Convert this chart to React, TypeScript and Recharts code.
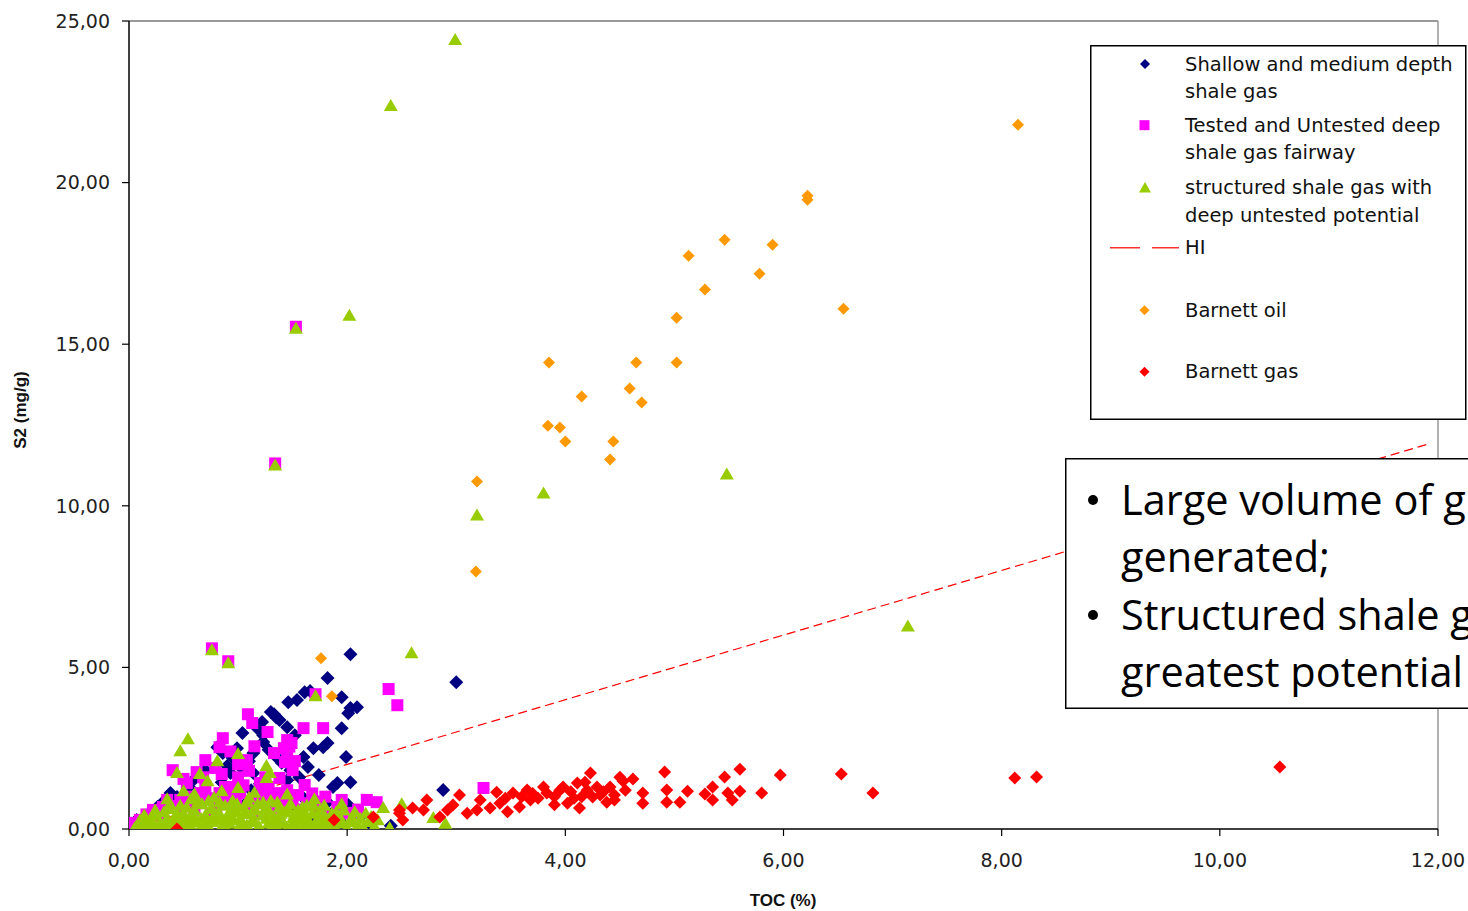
import React from 'react';
import { ScatterChart, Scatter, XAxis, YAxis, ReferenceLine } from 'recharts';

type P = { x: number; y: number };
const toPts = (a: number[][]): P[] => a.map(([x, y]) => ({ x, y }));

const xTicks = [0, 2, 4, 6, 8, 10, 12];
const yTicks = [0, 5, 10, 15, 20, 25];

const shallowGas = toPts([
  [2.03, 5.41], [1.82, 4.67], [3.0, 4.54], [2.88, 1.21], [1.61, 4.23], [1.54, 3.99], [1.46, 3.92],
  [1.95, 4.08], [2.03, 3.74], [2.09, 3.77], [2.01, 3.58], [1.33, 3.55], [1.38, 3.37], [1.45, 3.15],
  [1.22, 3.31], [1.95, 3.12], [1.04, 2.97], [1.23, 2.9], [1.52, 2.9], [1.82, 2.66], [1.78, 2.53],
  [1.69, 2.5], [1.6, 2.23], [1.99, 2.23], [1.64, 1.92], [1.74, 1.67], [1.87, 1.3], [1.91, 1.42],
  [2.03, 1.45], [1.59, 0.99], [2.01, 0.74], [2.12, 0.37], [1.14, 2.35], [1.23, 2.69], [0.99, 2.5],
  [0.86, 2.35], [0.81, 2.53], [0.7, 1.82], [0.93, 1.73], [1.02, 1.92], [1.14, 1.73], [1.48, 1.82],
  [1.45, 1.51], [0.38, 1.11], [0.44, 0.99], [0.31, 0.83], [0.26, 0.68], [0.17, 0.43], [0.07, 0.28],
  [0.01, 0.06], [1.69, 0.9], [1.82, 0.83], [1.72, 0.65], [1.48, 0.68], [1.32, 0.74], [1.08, 0.83],
  [0.65, 1.05], [1.3, 3.62], [1.35, 3.45], [1.28, 2.45], [0.95, 2.2], [1.1, 2.1], [1.4, 2.05],
  [0.55, 1.3], [0.85, 1.45], [1.2, 1.4], [1.56, 1.6], [1.88, 0.55], [1.95, 0.2], [2.21, 0.15],
  [1.7, 0.3], [2.4, 0.1], [0.6, 1.55], [0.9, 1.95], [1.18, 3.1], [1.36, 2.2], [1.66, 4.27], [1.12, 1.2],
]);

const deepFairway = toPts([
  [1.53, 15.54], [1.34, 11.31], [0.76, 5.59], [0.91, 5.19], [1.71, 4.17], [2.38, 4.33], [2.46, 3.83],
  [3.25, 1.27], [1.09, 3.55], [1.13, 3.28], [1.27, 3.0], [1.6, 3.12], [1.78, 3.12], [0.86, 2.81],
  [0.83, 2.53], [1.15, 2.56], [1.45, 2.35], [1.49, 2.66], [1.08, 2.13], [0.7, 2.13], [1.43, 2.07],
  [0.62, 1.76], [0.79, 1.89], [1.5, 1.82], [1.38, 1.58], [0.53, 1.42], [0.7, 1.3], [0.97, 1.3],
  [1.2, 1.42], [1.61, 1.36], [0.4, 1.82], [0.47, 0.9], [0.65, 1.11], [0.83, 1.11], [1.02, 1.11],
  [1.23, 1.11], [1.38, 1.11], [0.35, 0.9], [0.31, 0.68], [0.22, 0.59], [1.5, 0.9], [1.63, 0.8],
  [1.75, 0.68], [1.91, 0.68], [2.18, 0.9], [2.27, 0.83], [0.04, 0.19], [0.1, 0.28], [2.05, 0.34],
  [0.9, 0.85], [1.1, 0.7], [1.3, 0.55], [0.6, 0.6], [1.45, 2.75], [1.42, 2.5], [1.0, 1.6],
  [0.16, 0.45], [1.85, 0.4], [2.1, 0.6], [0.75, 0.45],
  [0.55, 1.0], [0.72, 0.95], [0.88, 1.3], [0.95, 1.0], [1.05, 1.35], [1.15, 0.95], [1.28, 1.3],
  [1.33, 0.95], [1.45, 1.2], [1.55, 1.05], [1.7, 0.85], [1.8, 1.0], [0.45, 0.7], [0.62, 0.8],
  [0.8, 0.65], [0.98, 0.75], [1.18, 0.8], [1.4, 0.75], [1.58, 0.6], [1.68, 1.1], [1.95, 0.9],
  [2.0, 0.5], [0.27, 0.45], [0.5, 1.55], [0.68, 1.6], [0.85, 1.7], [1.1, 1.8], [1.25, 1.6],
  [1.47, 2.55], [1.52, 2.1], [0.93, 2.4], [1.0, 2.0], [1.33, 2.35], [1.13, 0.5], [1.25, 0.85],
]);

const structuredGas = toPts([
  [2.99, 24.44], [2.4, 22.4], [2.02, 15.91], [1.53, 15.51], [1.34, 11.28], [3.8, 10.41], [3.19, 9.73],
  [5.48, 11.0], [7.14, 6.3], [2.59, 5.47], [0.76, 5.56], [0.91, 5.16], [1.71, 4.14],
  [0.44, 1.76], [0.47, 2.44], [0.54, 2.81], [0.65, 1.73], [0.72, 1.51], [0.81, 2.13], [1.0, 2.35],
  [1.26, 1.98], [1.26, 1.61], [1.29, 1.76],
  [0.05, 0.05], [0.08, 0.15], [0.12, 0.1], [0.15, 0.25], [0.18, 0.05], [0.2, 0.35], [0.22, 0.15],
  [0.25, 0.45], [0.28, 0.2], [0.3, 0.05], [0.32, 0.55], [0.35, 0.3], [0.38, 0.1], [0.4, 0.65],
  [0.42, 0.4], [0.45, 0.2], [0.47, 0.75], [0.5, 0.5], [0.52, 0.1], [0.55, 0.35], [0.57, 0.95],
  [0.6, 0.6], [0.62, 0.25], [0.65, 0.05], [0.67, 0.8], [0.7, 0.45], [0.72, 0.15], [0.75, 0.65],
  [0.78, 1.0], [0.8, 0.3], [0.82, 0.55], [0.85, 0.1], [0.88, 0.75], [0.9, 0.4], [0.92, 0.2],
  [0.95, 0.9], [0.98, 0.55], [1.0, 0.05], [1.02, 0.35], [1.05, 0.7], [1.08, 0.15], [1.1, 1.0],
  [1.12, 0.5], [1.15, 0.25], [1.18, 0.8], [1.2, 0.05], [1.22, 0.45], [1.25, 0.65], [1.28, 0.2],
  [1.3, 0.9], [1.33, 0.4], [1.35, 0.1], [1.38, 0.7], [1.4, 0.3], [1.43, 0.55], [1.45, 0.05],
  [1.48, 0.8], [1.5, 0.35], [1.53, 0.15], [1.55, 0.6], [1.58, 0.4], [1.6, 0.1], [1.63, 0.75],
  [1.65, 0.25], [1.68, 0.5], [1.7, 0.05], [1.73, 0.35], [1.75, 0.6], [1.78, 0.15], [1.8, 0.4],
  [1.85, 0.1], [1.88, 0.3], [1.9, 0.55], [1.95, 0.2], [2.0, 0.05], [2.05, 0.35], [2.1, 0.15],
  [2.15, 0.05], [2.2, 0.25], [2.25, 0.1], [2.33, 0.68], [2.39, 0.06], [2.5, 0.8], [2.79, 0.37],
  [2.9, 0.19],
  [0.1, 0.3], [0.14, 0.45], [0.19, 0.2], [0.24, 0.6], [0.27, 0.08], [0.33, 0.25], [0.36, 0.7],
  [0.41, 0.15], [0.44, 0.5], [0.49, 0.3], [0.53, 0.7], [0.56, 0.15], [0.59, 0.45], [0.63, 0.85],
  [0.66, 0.35], [0.69, 0.1], [0.73, 0.9], [0.76, 0.25], [0.79, 0.5], [0.83, 0.85], [0.86, 0.3],
  [0.89, 0.05], [0.93, 0.6], [0.96, 0.3], [0.99, 0.8], [1.03, 0.15], [1.06, 0.5], [1.09, 0.85],
  [1.13, 0.3], [1.16, 0.6], [1.19, 0.1], [1.23, 0.85], [1.26, 0.35], [1.29, 0.55], [1.32, 0.15],
  [1.36, 0.85], [1.39, 0.5], [1.42, 0.2], [1.46, 0.65], [1.49, 0.1], [1.52, 0.5], [1.56, 0.3],
  [1.59, 0.7], [1.62, 0.45], [1.66, 0.1], [1.69, 0.75], [1.72, 0.2], [1.76, 0.45], [1.79, 0.75],
  [1.83, 0.25], [1.86, 0.5], [1.89, 0.05], [1.93, 0.4], [1.97, 0.6], [2.02, 0.25], [2.07, 0.55],
  [2.12, 0.35], [2.17, 0.5], [2.22, 0.4], [2.28, 0.3], [0.6, 1.1], [0.85, 1.2], [1.15, 1.15],
  [1.0, 1.3], [1.45, 1.1], [1.7, 0.95], [0.35, 0.95], [0.5, 1.2], [1.95, 0.8],
]);

const hiLine = toPts([[0, 0], [11.93, 11.93]]);

const barnettOil = toPts([
  [8.15, 21.79], [6.22, 19.59], [6.22, 19.47], [5.46, 18.23], [5.9, 18.08], [5.13, 17.74],
  [5.78, 17.18], [5.28, 16.69], [6.55, 16.1], [5.02, 15.82], [3.85, 14.43], [4.65, 14.43],
  [5.02, 14.43], [4.15, 13.38], [4.59, 13.63], [4.7, 13.2], [3.84, 12.48], [3.95, 12.42],
  [4.0, 11.99], [4.44, 11.99], [4.41, 11.43], [3.19, 10.75], [3.18, 7.97], [1.76, 5.28], [1.86, 4.11],
]);

const barnettGas = toPts([
  [10.55, 1.92], [8.32, 1.61], [8.12, 1.58], [6.82, 1.11], [6.53, 1.7], [5.97, 1.67], [5.8, 1.11],
  [5.6, 1.85], [5.46, 1.61], [5.35, 1.3], [5.28, 1.08], [5.35, 0.9], [5.53, 0.9], [5.49, 1.11],
  [5.6, 1.17], [5.12, 1.17], [4.91, 1.76], [4.93, 1.21], [4.93, 0.83], [5.05, 0.83], [4.71, 1.11],
  [4.71, 0.8], [4.53, 1.48], [4.41, 1.3], [4.23, 1.73], [4.11, 1.42], [3.98, 1.3], [3.83, 1.11],
  [3.8, 1.3], [4.02, 0.8], [4.13, 0.65], [4.25, 0.99], [4.38, 0.83], [4.29, 1.3], [3.68, 0.9],
  [3.58, 0.68], [3.65, 1.21], [3.52, 1.11], [3.37, 1.14], [3.4, 0.8], [3.47, 0.53], [3.31, 0.65],
  [3.22, 0.9], [3.19, 0.59], [3.1, 0.49], [3.03, 1.05], [2.97, 0.74], [2.92, 0.59], [2.85, 0.37],
  [2.73, 0.9], [2.7, 0.59], [2.6, 0.65], [2.48, 0.59], [2.51, 0.28], [4.45, 1.05], [4.55, 1.2],
  [3.9, 1.0], [4.05, 1.15], [4.15, 1.0], [4.35, 1.15], [3.75, 0.95], [3.9, 0.75], [4.2, 1.2],
  [4.45, 0.9], [3.6, 1.0], [4.62, 1.55], [4.5, 1.6], [0.44, 0.0], [1.88, 0.28], [2.24, 0.37],
  [2.48, 0.49], [3.7, 1.1], [4.08, 0.95], [4.32, 1.05], [3.95, 1.2], [4.18, 1.45], [3.45, 0.95],
]);

const C_NAVY = '#000080';
const C_MAGENTA = '#FF00FF';
const C_GREEN = '#99CC00';
const C_ORANGE = '#FF9900';
const C_RED = '#FF0000';

const diamond = (color: string, r: number) => (props: any) => {
  const { cx, cy } = props;
  if (cx == null || cy == null) return <g />;
  return <polygon points={`${cx},${cy - r} ${cx + r},${cy} ${cx},${cy + r} ${cx - r},${cy}`} fill={color} />;
};
const square = (color: string, h: number) => (props: any) => {
  const { cx, cy } = props;
  if (cx == null || cy == null) return <g />;
  return <rect x={cx - h} y={cy - h} width={2 * h} height={2 * h} fill={color} />;
};
const triangle = (color: string, w: number, h: number) => (props: any) => {
  const { cx, cy } = props;
  if (cx == null || cy == null) return <g />;
  return <polygon points={`${cx},${cy - h / 2} ${cx + w / 2},${cy + h / 2} ${cx - w / 2},${cy + h / 2}`} fill={color} />;
};
const noDot = () => <g />;

const fmt = (v: number) => v.toFixed(2).replace('.', ',');

const TICK_FONT = { fontFamily: 'DejaVu Sans', fontSize: 19, fill: '#222' };
const LEG_FONT = { fontFamily: 'DejaVu Sans', fontSize: 19.5, fill: '#111' };

const legendRows = [
  { lines: ['Shallow and medium depth', 'shale gas'], y: 25.5, kind: 'navy' },
  { lines: ['Tested and Untested deep', 'shale gas fairway'], y: 86.7, kind: 'magenta' },
  { lines: ['structured shale gas with', 'deep untested potential'], y: 149, kind: 'green' },
  { lines: ['HI'], y: 209.3, kind: 'hi' },
  { lines: ['Barnett oil'], y: 271.7, kind: 'orange' },
  { lines: ['Barnett gas'], y: 333.3, kind: 'red' },
];

const LegendBox = () => (
  <svg width={377} height={376} style={{ position: 'absolute', left: 1090, top: 45 }}>
    <rect x={0.75} y={0.75} width={375} height={373.5} fill="#fff" stroke="#000" strokeWidth={1.5} />
    {legendRows.map((r, i) => {
      const my = r.y - 6.5;
      let mark: React.ReactNode = null;
      if (r.kind === 'navy') mark = <polygon points={`55,${my - 5} 60,${my} 55,${my + 5} 50,${my}`} fill={C_NAVY} />;
      if (r.kind === 'magenta') mark = <rect x={49.5} y={my - 5} width={10} height={10} fill={C_MAGENTA} />;
      if (r.kind === 'green') mark = <polygon points={`55,${my - 5.5} 61,${my + 5} 49,${my + 5}`} fill={C_GREEN} />;
      if (r.kind === 'orange') mark = <polygon points={`54.5,${my - 5} 59.5,${my} 54.5,${my + 5} 49.5,${my}`} fill={C_ORANGE} />;
      if (r.kind === 'red') mark = <polygon points={`54.5,${my - 5} 59.5,${my} 54.5,${my + 5} 49.5,${my}`} fill={C_RED} />;
      if (r.kind === 'hi') mark = (
        <g stroke={C_RED} strokeWidth={1.2}>
          <line x1={20} y1={my} x2={50} y2={my} />
          <line x1={62} y1={my} x2={89} y2={my} />
        </g>
      );
      return (
        <g key={i}>
          {mark}
          {r.lines.map((t, j) => (
            <text key={j} x={95} y={r.y + j * 27.7} {...LEG_FONT}>{t}</text>
          ))}
        </g>
      );
    })}
  </svg>
);

const YLabel = () => (
  <text x={26} y={410} transform="rotate(-90, 26, 410)" textAnchor="middle"
    style={{ fontFamily: 'Liberation Sans', fontSize: 17, fontWeight: 'bold', fill: '#111' }}>
    S2 (mg/g)
  </text>
);
const XLabel = () => (
  <text x={783} y={906} textAnchor="middle"
    style={{ fontFamily: 'Liberation Sans', fontSize: 17, fontWeight: 'bold', fill: '#111' }}>
    TOC (%)
  </text>
);

const boxLines = [
  { bullet: true, text: 'Large volume of g', y: 57 },
  { bullet: false, text: 'generated;', y: 114 },
  { bullet: true, text: 'Structured shale g', y: 172 },
  { bullet: false, text: 'greatest potential', y: 229 },
];

export default function App() {
  return (
    <div style={{ position: 'absolute', left: 0, top: 0, width: 1468, height: 911, overflow: 'hidden', background: '#fff' }}>
      <ScatterChart width={1468} height={911} margin={{ top: 21, right: 30, left: 9, bottom: 32 }}>
        <XAxis
          type="number" dataKey="x" domain={[0, 12]} ticks={xTicks} tickFormatter={fmt}
          axisLine={{ stroke: '#000', strokeWidth: 1.5 }} tickLine={{ stroke: '#000', strokeWidth: 1.2 }}
          tickSize={7} tickMargin={18} tick={TICK_FONT} height={50} interval={0}
          label={<XLabel />} allowDataOverflow
        />
        <YAxis
          type="number" dataKey="y" domain={[0, 25]} ticks={yTicks} tickFormatter={fmt}
          axisLine={{ stroke: '#000', strokeWidth: 1.5 }} tickLine={{ stroke: '#000', strokeWidth: 1.2 }}
          tickSize={7} tickMargin={12} tick={TICK_FONT} width={120} interval={0}
          label={<YLabel />} allowDataOverflow
        />
        <ReferenceLine y={25} stroke="#999" strokeWidth={2} />
        <ReferenceLine x={12} stroke="#999" strokeWidth={1.5} />
        <Scatter name="HI" data={hiLine} line={{ stroke: C_RED, strokeWidth: 1.2, strokeDasharray: '9 5' }}
          shape={noDot} isAnimationActive={false} legendType="none" />
        <Scatter name="Shallow and medium depth shale gas" data={shallowGas} shape={diamond(C_NAVY, 7)} isAnimationActive={false} />
        <Scatter name="Tested and Untested deep shale gas fairway" data={deepFairway} shape={square(C_MAGENTA, 6)} isAnimationActive={false} />
        <Scatter name="structured shale gas with deep untested potential" data={structuredGas} shape={triangle(C_GREEN, 14, 12)} isAnimationActive={false} />
        <Scatter name="Barnett oil" data={barnettOil} shape={diamond(C_ORANGE, 6)} isAnimationActive={false} />
        <Scatter name="Barnett gas" data={barnettGas} shape={diamond(C_RED, 6.5)} isAnimationActive={false} />
      </ScatterChart>
      <LegendBox />
      <svg width={405} height={252} style={{ position: 'absolute', left: 1065, top: 458 }}>
        <rect x={0.75} y={0.75} width={430} height={249.5} fill="#fff" stroke="#000" strokeWidth={1.5} />
        {boxLines.map((l, i) => (
          <g key={i}>
            {l.bullet && <circle cx={28} cy={l.y - 15} r={5} fill="#000" />}
            <text x={56} y={l.y} style={{ fontFamily: 'Open Sans', fontSize: 41.5, fill: '#000' }}>{l.text}</text>
          </g>
        ))}
      </svg>
    </div>
  );
}
